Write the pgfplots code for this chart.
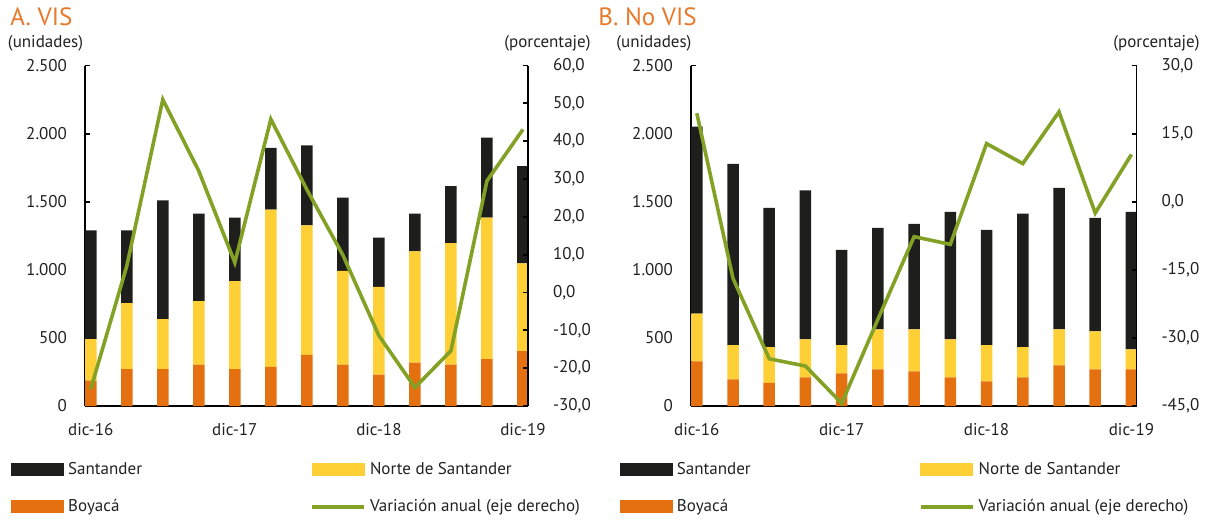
\documentclass[border=0pt]{standalone}
\usepackage{fontspec}
\setmainfont{PT Sans}
\usepackage{pgfplots}
\usepackage{pgfplotstable}
\pgfplotsset{compat=1.18}
\definecolor{cSant}{HTML}{1E1E1C}
\definecolor{cNorte}{HTML}{FFD035}
\definecolor{cBoy}{HTML}{E4700F}
\definecolor{cLine}{HTML}{82A125}
\definecolor{cTitle}{HTML}{E8782A}
\definecolor{cText}{HTML}{222222}

% Panel A: VIS (units per department, stacked)
\pgfplotstableread{
x boy norte sant
0 186 305 799
1 271 484 535
2 271 367 872
3 303 467 642
4 271 645 467
5 288 1154 454
6 376 951 586
7 303 689 538
8 230 645 361
9 318 818 276
10 303 892 420
11 345 1038 587
12 403 645 714
}\barsA
\pgfplotstableread{
x var
0 -25.5
1 7.0
2 51.0
3 32.1
4 7.9
5 45.8
6 27.2
7 9.9
8 -11.4
9 -25.1
10 -15.4
11 29.5
12 43.1
}\lineA
% Panel B: No VIS
\pgfplotstableread{
x boy norte sant
0 328 351 1373
1 196 251 1330
2 169 263 1022
3 210 279 1094
4 240 207 699
5 269 293 746
6 254 308 775
7 210 279 936
8 181 266 846
9 210 222 980
10 298 264 1039
11 269 279 833
12 269 147 1009
}\barsB
\pgfplotstableread{
x var
0 19.5
1 -16.9
2 -34.6
3 -36.2
4 -44.4
5 -25.9
6 -7.7
7 -9.4
8 12.8
9 8.4
10 19.8
11 -2.5
12 10.4
}\lineB

\pgfplotsset{
  common/.style={scale only axis, height=170.25pt, xmin=-0.16, xmax=12.14,
    anchor=south west, tick align=inside, major tick length=2.5pt,
    axis line style={line width=0.9pt, black},
    every tick/.style={line width=0.9pt, black},
    ticklabel style={font=\fontsize{8.5}{10}\selectfont, text=cText},
    /pgf/number format/assume math mode=true},
  leftax/.style={common, axis x line*=bottom, axis y line*=left,
    ymin=0, ymax=2500, ytick={0,500,...,2500},
    xtick={0,4,8,12}, xticklabels={dic-16,dic-17,dic-18,dic-19},
    yticklabel style={/pgf/number format/1000 sep={.}, xshift=-5.5pt},
    xticklabel style={yshift=-5pt},
    ybar stacked, bar width=5.75pt,
    legend columns=2, legend cell align=left,
    legend style={draw=none, fill=none, inner sep=0pt, anchor=north west,
      font=\fontsize{8.5}{10}\selectfont, text=cText, row sep=7pt,
      /tikz/every even column/.append style={column sep=82pt}}},
  rightax/.style={common, axis y line*=right, axis x line=none, clip=false,
    yticklabel style={/pgf/number format/.cd, fixed, fixed zerofill, precision=1, use comma, 1000 sep={}, /tikz/.cd, xshift=9pt}},
}

\begin{document}
\begin{tikzpicture}
\useasboundingbox (0,0) rectangle (607.5pt,-260pt);

% ---------------- Panel A ----------------
\begin{axis}[leftax, at={(42.5pt,-203pt)}, width=221.5pt,
  legend style={at={(-0.167,-0.152)}}]
  \addplot[fill=cBoy, draw=none, forget plot] table[x=x,y=boy]{\barsA};
  \addplot[fill=cNorte, draw=none, forget plot] table[x=x,y=norte]{\barsA};
  \addplot[fill=cSant, draw=none, forget plot] table[x=x,y=sant]{\barsA};
  \addlegendimage{legend image code/.code={\fill[cSant] (0pt,-3pt) rectangle (26pt,3pt);}}
  \addlegendentry{Santander}
  \addlegendimage{legend image code/.code={\fill[cNorte] (0pt,-3pt) rectangle (26pt,3pt);}}
  \addlegendentry{Norte de Santander}
  \addlegendimage{legend image code/.code={\fill[cBoy] (0pt,-3pt) rectangle (26pt,3pt);}}
  \addlegendentry{Boyacá}
  \addlegendimage{legend image code/.code={\draw[cLine, line width=2pt] (0pt,0pt) -- (26pt,0pt);}}
  \addlegendentry{Variación anual (eje derecho)}
\end{axis}
\begin{axis}[rightax, at={(42.5pt,-203pt)}, width=221.5pt,
  ymin=-30, ymax=60, ytick={-30,-20,...,60}]
  \addplot[cLine, line width=1.8pt, mark=none] table[x=x,y=var]{\lineA};
\end{axis}

% ---------------- Panel B ----------------
\begin{axis}[leftax, at={(345.5pt,-203pt)}, width=222.75pt,
  legend style={at={(-0.16,-0.152)}}]
  \addplot[fill=cBoy, draw=none, forget plot] table[x=x,y=boy]{\barsB};
  \addplot[fill=cNorte, draw=none, forget plot] table[x=x,y=norte]{\barsB};
  \addplot[fill=cSant, draw=none, forget plot] table[x=x,y=sant]{\barsB};
  \addlegendimage{legend image code/.code={\fill[cSant] (0pt,-3pt) rectangle (26pt,3pt);}}
  \addlegendentry{Santander}
  \addlegendimage{legend image code/.code={\fill[cNorte] (0pt,-3pt) rectangle (26pt,3pt);}}
  \addlegendentry{Norte de Santander}
  \addlegendimage{legend image code/.code={\fill[cBoy] (0pt,-3pt) rectangle (26pt,3pt);}}
  \addlegendentry{Boyacá}
  \addlegendimage{legend image code/.code={\draw[cLine, line width=2pt] (0pt,0pt) -- (26pt,0pt);}}
  \addlegendentry{Variación anual (eje derecho)}
\end{axis}
\begin{axis}[rightax, at={(345.5pt,-203pt)}, width=222.75pt,
  ymin=-45, ymax=30, ytick={-45,-30,...,30}]
  \addplot[cLine, line width=1.8pt, mark=none] table[x=x,y=var]{\lineB};
\end{axis}

% ---------------- Titles and unit labels ----------------
\node[anchor=west, inner sep=0pt, text=cTitle, font=\fontsize{12.5}{14}\selectfont] at (5pt,-8.3pt) {A. VIS};
\node[anchor=west, inner sep=0pt, text=cText, font=\fontsize{8.5}{10}\selectfont] at (3.8pt,-21.5pt) {(unidades)};
\node[anchor=east, inner sep=0pt, text=cText, font=\fontsize{8.5}{10}\selectfont] at (295.5pt,-21.5pt) {(porcentaje)};
\node[anchor=west, inner sep=0pt, text=cTitle, font=\fontsize{12.5}{14}\selectfont] at (299pt,-8.3pt) {B. No VIS};
\node[anchor=west, inner sep=0pt, text=cText, font=\fontsize{8.5}{10}\selectfont] at (308pt,-21.5pt) {(unidades)};
\node[anchor=east, inner sep=0pt, text=cText, font=\fontsize{8.5}{10}\selectfont] at (600pt,-21.5pt) {(porcentaje)};
\end{tikzpicture}
\end{document}
